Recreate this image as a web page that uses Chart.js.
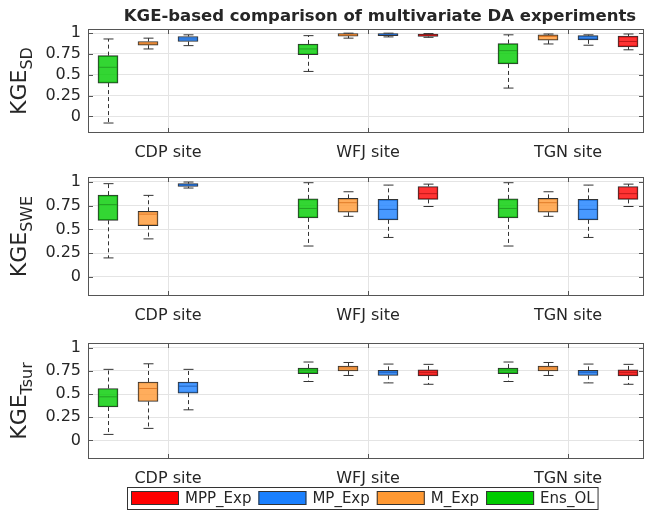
<!DOCTYPE html>
<html>
<head>
<meta charset="utf-8">
<script src="https://cdn.jsdelivr.net/npm/chart.js@4.4.1/dist/chart.umd.min.js"></script>
<style>
  body { margin: 0; background: #fff; }
  #wrap { position: relative; width: 646px; height: 512px; }
  .panel { position: absolute; left: 0; width: 646px; }
</style>
</head>
<body>
<div id="wrap">
  <div class="panel" style="top:0;height:170px"><canvas id="c1"></canvas></div>
  <div class="panel" style="top:170px;height:160px"><canvas id="c2"></canvas></div>
  <div class="panel" style="top:330px;height:182px"><canvas id="c3"></canvas></div>
</div>
<script>
const sites = ['CDP site', 'WFJ site', 'TGN site'];
const methods = ['Ens_OL', 'M_Exp', 'MP_Exp', 'MPP_Exp'];
const methodColors = ['#00cc00', '#ff9933', '#1a80ff', '#ff0000'];
const medianColors = ['#22a022', '#e07a28', '#1f62c0', '#c01818'];
const yTicks = [0, 0.25, 0.5, 0.75, 1];

// each site: [lower whisker, q1, median, q3, upper whisker]
const sdEnsOL   = [[-0.08, 0.40, 0.59, 0.73, 0.93], [0.54, 0.74, 0.81, 0.87, 0.97], [0.34, 0.63, 0.79, 0.875, 0.98]];
const sdMExp    = [[0.81, 0.856, 0.88, 0.90, 0.94], [0.94, 0.965, 0.98, 0.995, 1.0], [0.87, 0.915, 0.96, 0.98, 0.99]];
const sdMPExp   = [[0.85, 0.90, 0.93, 0.96, 0.98], [0.955, 0.97, 0.985, 0.995, 1.0], [0.855, 0.92, 0.94, 0.97, 0.98]];
const sdMPPExp  = [null, [0.95, 0.96, 0.975, 0.99, 0.995], [0.80, 0.835, 0.90, 0.965, 0.99]];

const sweEnsOL  = [[0.20, 0.595, 0.76, 0.86, 0.98], [0.325, 0.62, 0.72, 0.82, 0.99], [0.325, 0.62, 0.72, 0.82, 0.99]];
const sweMExp   = [[0.40, 0.54, 0.66, 0.69, 0.857], [0.637, 0.68, 0.78, 0.825, 0.895], [0.637, 0.68, 0.78, 0.825, 0.895]];
const sweMPExp  = [[0.934, 0.95, 0.965, 0.98, 0.997], [0.415, 0.60, 0.71, 0.815, 0.965], [0.415, 0.60, 0.71, 0.815, 0.965]];
const sweMPPExp = [null, [0.74, 0.815, 0.875, 0.95, 0.975], [0.74, 0.815, 0.875, 0.95, 0.975]];

const tsEnsOL   = [[0.065, 0.36, 0.47, 0.56, 0.766], [0.635, 0.72, 0.75, 0.78, 0.845], [0.635, 0.72, 0.75, 0.78, 0.845]];
const tsMExp    = [[0.13, 0.42, 0.56, 0.63, 0.826], [0.70, 0.75, 0.78, 0.80, 0.84], [0.70, 0.75, 0.78, 0.80, 0.84]];
const tsMPExp   = [[0.33, 0.51, 0.585, 0.63, 0.766], [0.62, 0.70, 0.73, 0.755, 0.823], [0.62, 0.70, 0.73, 0.755, 0.823]];
const tsMPPExp  = [null, [0.605, 0.695, 0.73, 0.76, 0.82], [0.605, 0.695, 0.73, 0.76, 0.82]];

const FONT = '"DejaVu Sans", sans-serif';
const TXT = '#262626';

function alpha(hex, a) {
    var n = parseInt(hex.slice(1), 16);
    return 'rgba(' + (n >> 16) + ',' + ((n >> 8) & 255) + ',' + (n & 255) + ',' + a + ')';
}

function line(ctx, x1, y1, x2, y2) {
    ctx.beginPath();
    ctx.moveTo(x1, y1);
    ctx.lineTo(x2, y2);
    ctx.stroke();
}

const boxPlugin = {
    id: 'kge',
    beforeDatasetsDraw(chart) {
        const ctx = chart.ctx, ys = chart.scales.y;
        ctx.save();
        ctx.strokeStyle = '#333';
        ctx.lineWidth = 1;
        chart.data.datasets.forEach((ds, k) => {
            chart.getDatasetMeta(k).data.forEach((bar, j) => {
                const s = ds.data[j].s;
                const xc = Math.round(bar.x) + 0.5;
                ctx.setLineDash([4, 3]);
                line(ctx, xc, ys.getPixelForValue(s[3]), xc, ys.getPixelForValue(s[4]));
                line(ctx, xc, ys.getPixelForValue(s[1]), xc, ys.getPixelForValue(s[0]));
                ctx.setLineDash([]);
                line(ctx, xc - 5, ys.getPixelForValue(s[4]), xc + 5, ys.getPixelForValue(s[4]));
                line(ctx, xc - 5, ys.getPixelForValue(s[0]), xc + 5, ys.getPixelForValue(s[0]));
            });
        });
        ctx.restore();
    },
    afterDatasetsDraw(chart) {
        const ctx = chart.ctx, ys = chart.scales.y;
        ctx.save();
        ctx.lineWidth = 1;
        chart.data.datasets.forEach((ds, k) => {
            ctx.strokeStyle = medianColors[k];
            chart.getDatasetMeta(k).data.forEach((bar, j) => {
                const ym = ys.getPixelForValue(ds.data[j].s[2]);
                line(ctx, bar.x - 9, ym, bar.x + 9, ym);
            });
        });
        ctx.restore();
    },
    afterDraw(chart, args, opts) {
        const ctx = chart.ctx, a = chart.chartArea;
        const xs = chart.scales.x, ys = chart.scales.y;
        ctx.save();
        // axes box and inward ticks
        ctx.strokeStyle = '#555';
        ctx.lineWidth = 1;
        ctx.strokeRect(a.left + 0.5, a.top + 0.5, a.right - a.left - 1, a.bottom - a.top - 1);
        yTicks.forEach(v => {
            const y = Math.round(ys.getPixelForValue(v)) + 0.5;
            line(ctx, a.left, y, a.left + 5, y);
            line(ctx, a.right - 5, y, a.right, y);
        });
        [1, 2, 3].forEach(v => {
            const x = Math.round(xs.getPixelForValue(v)) + 0.5;
            line(ctx, x, a.top, x, a.top + 5);
            line(ctx, x, a.bottom - 5, x, a.bottom);
        });

        // y label with subscript
        ctx.fillStyle = TXT;
        ctx.save();
        ctx.translate(26, (a.top + a.bottom) / 2);
        ctx.rotate(-Math.PI / 2);
        ctx.font = '22px ' + FONT;
        const w1 = ctx.measureText('KGE').width;
        ctx.font = '16px ' + FONT;
        const w2 = ctx.measureText(opts.sub).width;
        ctx.textAlign = 'left';
        ctx.textBaseline = 'alphabetic';
        ctx.font = '22px ' + FONT;
        ctx.fillText('KGE', -(w1 + w2) / 2, 0);
        ctx.font = '16px ' + FONT;
        ctx.fillText(opts.sub, -(w1 + w2) / 2 + w1, 6);
        ctx.restore();

        if (opts.title) {
            ctx.font = 'bold 16.5px ' + FONT;
            ctx.textAlign = 'center';
            ctx.textBaseline = 'middle';
            ctx.fillText(opts.title, 380, 17);
        }

        if (opts.legend) {
            const top = 157, h = 22, left = 127;
            ctx.font = '15px ' + FONT;
            ctx.textAlign = 'left';
            ctx.textBaseline = 'middle';
            let x = left + 4;
            const order = [3, 2, 1, 0];
            const items = [];
            order.forEach(k => {
                items.push({ k: k, x: x });
                x += 48 + 6 + ctx.measureText(methods[k]).width + 7;
            });
            ctx.fillStyle = '#fff';
            ctx.fillRect(left, top, x - left - 3, h);
            ctx.strokeStyle = '#333';
            ctx.strokeRect(left + 0.5, top + 0.5, x - left - 4, h);
            items.forEach(it => {
                ctx.fillStyle = methodColors[it.k];
                ctx.fillRect(it.x, top + 4, 48, 14);
                ctx.strokeStyle = '#333';
                ctx.strokeRect(it.x + 0.5, top + 4.5, 47, 13);
                ctx.fillStyle = TXT;
                ctx.fillText(methods[it.k], it.x + 54, top + h / 2 + 1);
            });
        }
        ctx.restore();
    }
};

function makeChart(id, stats, padTop, xHeight, opts) {
    const datasets = methods.map((m, k) => {
        const pts = [];
        sites.forEach((s, i) => {
            const st = stats[k][i];
            if (st) pts.push({ x: i + 1 + (k - 1.5) * 0.2, y: [st[1], st[3]], s: st });
        });
        return {
            label: m,
            data: pts,
            backgroundColor: alpha(methodColors[k], 0.8),
            borderColor: '#333',
            borderWidth: 1,
            borderSkipped: false,
            barThickness: 20,
            grouped: false
        };
    });

    return new Chart(document.getElementById(id), {
        type: 'bar',
        data: { datasets },
        options: {
            responsive: true,
            maintainAspectRatio: false,
            animation: false,
            layout: { padding: { top: padTop, right: 2, left: 0, bottom: 0 } },
            plugins: { legend: { display: false }, tooltip: { enabled: false }, kge: opts },
            scales: {
                x: {
                    type: 'linear',
                    min: 0.6,
                    max: 3.38,
                    offset: false,
                    afterBuildTicks: ax => { ax.ticks = [1, 2, 3].map(v => ({ value: v })); },
                    afterFit: ax => {
                        ax.height = xHeight;
                        ax.paddingLeft = 0;
                        ax.paddingRight = 0;
                    },
                    grid: { offset: false, color: '#e4e4e4', drawTicks: false },
                    border: { display: false },
                    ticks: {
                        padding: 10,
                        color: TXT,
                        font: { family: FONT, size: 16 },
                        callback: v => sites[v - 1]
                    }
                },
                y: {
                    min: -0.2,
                    max: 1.05,
                    afterBuildTicks: ax => { ax.ticks = yTicks.map(v => ({ value: v })); },
                    afterFit: ax => {
                        ax.width = 88;
                        ax.paddingTop = 0;
                        ax.paddingBottom = 0;
                    },
                    grid: { color: '#e4e4e4', drawTicks: false },
                    border: { display: false },
                    ticks: {
                        padding: 7,
                        color: TXT,
                        font: { family: FONT, size: 16 },
                        callback: v => String(v)
                    }
                }
            }
        },
        plugins: [boxPlugin]
    });
}

makeChart('c1', [sdEnsOL, sdMExp, sdMPExp, sdMPPExp], 29, 37,
    { sub: 'SD', title: 'KGE-based comparison of multivariate DA experiments' });
makeChart('c2', [sweEnsOL, sweMExp, sweMPExp, sweMPPExp], 7, 34, { sub: 'SWE' });
makeChart('c3', [tsEnsOL, tsMExp, tsMPExp, tsMPPExp], 13, 53, { sub: 'Tsur', legend: true });
</script>
</body>
</html>
